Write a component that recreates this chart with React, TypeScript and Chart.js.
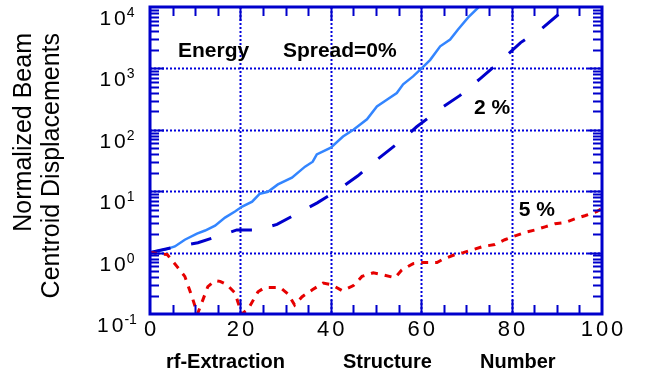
import React, { useEffect, useRef } from "react";
import { Chart, registerables } from "chart.js";

Chart.register(...registerables);

// ---- data ----
const spread0X = [0, 3.3, 5.5, 7.7, 10.4, 12.2, 14.4, 16.6, 18.8, 20.4, 22.6, 24.3, 26.1, 28.3, 31.4, 34.3, 36, 36.9, 40, 42.7, 45, 48, 50.2, 52.4, 54.6, 56, 58.2, 60.2, 62, 64.2, 66.4, 68.1, 70.4, 72.6, 74];
const spread0Y = [1, 1.12, 1.26, 1.62, 2.04, 2.29, 2.75, 3.72, 4.68, 5.62, 6.76, 9.12, 9.77, 12.9, 16.6, 25.1, 30.2, 39.8, 51.3, 77.6, 100, 148, 240, 309, 398, 550, 741, 1023, 1380, 2290, 2950, 4270, 6760, 9770, 14000];

const spread2X = [0, 6, 10.6, 14.8, 19.2, 23.9, 28.1, 32.7, 37, 41, 46, 50, 55, 59, 64, 68.6, 73, 77.4, 82, 86.7, 90.7, 93];
const spread2Y = [1, 1.26, 1.45, 1.82, 2.34, 2.34, 2.88, 4.37, 6.46, 9.77, 17.8, 31.6, 61.7, 112, 214, 363, 676, 1290, 2630, 4470, 7940, 11200];

const spread5X = [0, 3.8, 6, 7.7, 9.3, 10.5, 11.7, 12.8, 14.4, 15.5, 17, 18.8, 20.3, 21.7, 23.9, 25.4, 28.8, 30.6, 32, 33.6, 36, 38.3, 40.2, 42.5, 45, 46.9, 49.4, 51.3, 54.2, 55.7, 58.2, 60.4, 63.5, 64.8, 67.5, 69.3, 71.5, 73.7, 76.3, 78.5, 80.3, 83, 85.2, 87.4, 89.6, 91.8, 94, 96.2, 98.9, 100];
const spread5Y = [1, 0.93, 0.59, 0.41, 0.19, 0.1, 0.17, 0.28, 0.35, 0.34, 0.3, 0.22, 0.1, 0.12, 0.23, 0.27, 0.27, 0.21, 0.14, 0.19, 0.25, 0.32, 0.3, 0.24, 0.29, 0.41, 0.47, 0.44, 0.39, 0.52, 0.66, 0.69, 0.69, 0.78, 0.93, 1.0, 1.12, 1.26, 1.35, 1.62, 1.82, 2.14, 2.34, 2.63, 2.95, 3.09, 3.55, 3.98, 4.68, 5.25];

const xTickLabels = [0, 20, 40, 60, 80, 100];
const xGridValues = [20, 40, 60, 80];
const xMinorStep = 5;
const yExponents = [-1, 0, 1, 2, 3, 4];
const yGridValues = [1, 10, 100, 1000];

const annoTexts = ["Energy", "Spread=0%", "2 %", "5 %"];
const annoX = [6.2, 29.4, 71.7, 81.6];
const annoY = [1550, 1550, 178, 4.0];

const xTitleWords = ["rf-Extraction", "Structure", "Number"];
const yTitleLines = ["Normalized Beam", "Centroid Displacements"];

const FONT = "'Liberation Sans', Arial, Helvetica, sans-serif";
const AXIS = "#0000cc";
const GRID = "#0000dd";

const sup = (e: number) => (e < 0 ? "-" + Math.abs(e) : String(e));

const decorPlugin = {
  id: "decor",
  beforeDatasetsDraw(chart: any) {
    const { ctx, chartArea: a, scales } = chart;
    const x = scales.x, y = scales.y;
    ctx.save();
    ctx.strokeStyle = GRID;
    ctx.lineWidth = 2;
    ctx.setLineDash([2, 2]);
    for (const v of xGridValues) {
      const px = Math.round(x.getPixelForValue(v)) + 0.5;
      ctx.beginPath();
      ctx.moveTo(px, a.top);
      ctx.lineTo(px, a.bottom);
      ctx.stroke();
    }
    for (const v of yGridValues) {
      const py = Math.round(y.getPixelForValue(v)) + 0.5;
      ctx.beginPath();
      ctx.moveTo(a.left, py);
      ctx.lineTo(a.right, py);
      ctx.stroke();
    }
    ctx.restore();
  },
  afterDatasetsDraw(chart: any) {
    const { ctx, chartArea: a, scales } = chart;
    const x = scales.x, y = scales.y;
    ctx.save();
    ctx.setLineDash([]);
    ctx.strokeStyle = AXIS;
    // ticks
    ctx.lineWidth = 2;
    for (let v = x.min + xMinorStep; v < x.max; v += xMinorStep) {
      const px = Math.round(x.getPixelForValue(v)) + 0.5;
      const len = v % 20 === 0 ? 14 : 9;
      ctx.beginPath();
      ctx.moveTo(px, a.bottom);
      ctx.lineTo(px, a.bottom - len);
      ctx.moveTo(px, a.top);
      ctx.lineTo(px, a.top + len);
      ctx.stroke();
    }
    for (let e = -1; e < 4; e++) {
      for (let m = 1; m <= 9; m++) {
        if (e === -1 && m === 1) continue;
        const v = m * Math.pow(10, e);
        const py = Math.round(y.getPixelForValue(v)) + 0.5;
        const len = m === 1 ? 14 : 9;
        ctx.beginPath();
        ctx.moveTo(a.left, py);
        ctx.lineTo(a.left + len, py);
        ctx.moveTo(a.right, py);
        ctx.lineTo(a.right - len, py);
        ctx.stroke();
      }
    }
    // frame
    ctx.lineWidth = 3;
    ctx.strokeRect(a.left, a.top, a.right - a.left, a.bottom - a.top);

    // x tick labels
    ctx.fillStyle = "#000";
    ctx.font = `22px ${FONT}`;
    (ctx as any).letterSpacing = "3px";
    ctx.textAlign = "center";
    ctx.textBaseline = "alphabetic";
    for (const v of xTickLabels) {
      ctx.fillText(String(v), x.getPixelForValue(v) + 1.5, a.bottom + 22);
    }
    // y tick labels with superscript
    for (const e of yExponents) {
      const py = y.getPixelForValue(Math.pow(10, e));
      ctx.font = `21px ${FONT}`;
      (ctx as any).letterSpacing = "3px";
      const bw = ctx.measureText("10").width;
      ctx.font = `14px ${FONT}`;
      (ctx as any).letterSpacing = "0px";
      const sw = ctx.measureText(sup(e)).width;
      const left = 118 - (bw + sw) / 2;
      ctx.textAlign = "left";
      ctx.font = `21px ${FONT}`;
      (ctx as any).letterSpacing = "3px";
      ctx.fillText("10", left, py + 18);
      ctx.font = `14px ${FONT}`;
      (ctx as any).letterSpacing = "0px";
      ctx.fillText(sup(e), left + bw - 2, py + 10);
    }
    (ctx as any).letterSpacing = "0px";

    // annotations
    ctx.font = `bold 21px ${FONT}`;
    ctx.textAlign = "left";
    annoTexts.forEach((t, i) => {
      ctx.fillText(t, x.getPixelForValue(annoX[i]), y.getPixelForValue(annoY[i]));
    });

    // x title
    ctx.font = `bold 20px ${FONT}`;
    const wordLefts = [166, 343, 480];
    xTitleWords.forEach((w, i) => ctx.fillText(w, wordLefts[i], 368));

    // y title
    ctx.font = `25px ${FONT}`;
    const lineX = [24, 52];
    yTitleLines.forEach((t, i) => {
      ctx.save();
      ctx.translate(lineX[i], 33);
      ctx.rotate(-Math.PI / 2);
      ctx.textAlign = "right";
      ctx.textBaseline = "middle";
      ctx.fillText(t, 0, 0);
      ctx.restore();
    });
    ctx.restore();
  },
};

export default function App() {
  const ref = useRef<HTMLCanvasElement>(null);
  useEffect(() => {
    document.body.style.margin = "0";
    const canvas = ref.current!;
    const pts = (xs: number[], ys: number[]) => xs.map((v, i) => ({ x: v, y: ys[i] }));
    const chart = new Chart(canvas, {
      type: "line",
      data: {
        datasets: [
          {
            label: "5%",
            data: pts(spread5X, spread5Y),
            borderColor: "#e60000",
            borderWidth: 3,
            borderDash: [7, 7],
            pointRadius: 0,
            tension: 0,
          },
          {
            label: "2%",
            data: pts(spread2X, spread2Y),
            borderColor: "#0000cc",
            borderWidth: 3,
            borderDash: [21, 21],
            pointRadius: 0,
            tension: 0,
          },
          {
            label: "0%",
            data: pts(spread0X, spread0Y),
            borderColor: "#3385ff",
            borderWidth: 2.5,
            pointRadius: 0,
            tension: 0,
          },
        ],
      },
      options: {
        responsive: false,
        animation: false,
        layout: { padding: { top: 7, right: 48, left: 0, bottom: 0 } },
        plugins: { legend: { display: false }, tooltip: { enabled: false } },
        scales: {
          x: {
            type: "linear",
            min: 0,
            max: 100,
            grid: { display: false },
            border: { display: false },
            ticks: { display: false },
            afterFit: (s: any) => {
              s.height = 65;
            },
          },
          y: {
            type: "logarithmic",
            min: 0.1,
            max: 10000,
            grid: { display: false },
            border: { display: false },
            ticks: { display: false },
            afterFit: (s: any) => {
              s.width = 150;
            },
          },
        },
      },
      plugins: [decorPlugin],
    } as any);
    return () => chart.destroy();
  }, []);
  return (
    <div style={{ width: 650, height: 379 }}>
      <canvas ref={ref} width={650} height={379} style={{ display: "block" }} />
    </div>
  );
}
